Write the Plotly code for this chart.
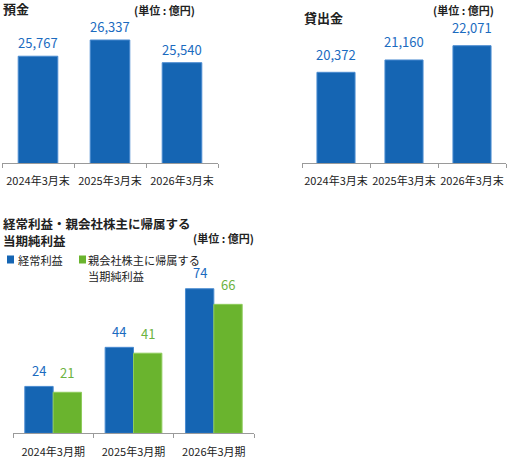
import plotly.graph_objects as go

# ---- data ----
periods_end = ["2024年3月末", "2025年3月末", "2026年3月末"]
periods_fy = ["2024年3月期", "2025年3月期", "2026年3月期"]
deposits = [25767, 26337, 25540]
loans = [20372, 21160, 22071]
ordinary_profit = [24, 44, 74]
net_profit = [21, 41, 66]

W, H = 512, 458
BLUE = "#1565b3"
BLUE_EDGE = "#4a8bd0"
BLUE_TXT = "#1b6bbf"
GREEN = "#6ab42e"
GREEN_EDGE = "#8ecb5c"
GREEN_TXT = "#6cb33f"
FONT = "Noto Sans CJK JP, Noto Sans, sans-serif"


def px(x):
    return x / W


def py(y):
    return 1 - y / H


def fmt(v):
    return f"{v:,}"


fig = go.Figure()
annotations = []
shapes = []

idx = [i + 0.5 for i in range(3)]

# ---- 預金 ----
fig.add_trace(go.Bar(x=idx, y=deposits, width=0.55, xaxis="x", yaxis="y",
                     marker=dict(color=BLUE, line=dict(color=BLUE_EDGE, width=1)),
                     showlegend=False, hoverinfo="skip"))
for xv, v in zip(idx, deposits):
    annotations.append(dict(x=xv, y=v, xref="x", yref="y", text=fmt(v), showarrow=False,
                            yshift=13.5, font=dict(size=13, color=BLUE_TXT, family=FONT)))

# ---- 貸出金 ----
fig.add_trace(go.Bar(x=idx, y=loans, width=0.56, xaxis="x2", yaxis="y2",
                     marker=dict(color=BLUE, line=dict(color=BLUE_EDGE, width=1)),
                     showlegend=False, hoverinfo="skip"))
for xv, v in zip(idx, loans):
    annotations.append(dict(x=xv, y=v, xref="x2", yref="y2", text=fmt(v), showarrow=False,
                            yshift=18, font=dict(size=13, color=BLUE_TXT, family=FONT)))

# ---- 利益 ----
bw = 0.353
fig.add_trace(go.Bar(x=idx, y=ordinary_profit, width=bw, offset=-bw, xaxis="x3", yaxis="y3",
                     marker=dict(color=BLUE, line=dict(color=BLUE_EDGE, width=1)),
                     showlegend=False, hoverinfo="skip"))
fig.add_trace(go.Bar(x=idx, y=net_profit, width=bw, offset=0, xaxis="x3", yaxis="y3",
                     marker=dict(color=GREEN, line=dict(color=GREEN_EDGE, width=1)),
                     showlegend=False, hoverinfo="skip"))
for xv, v in zip(idx, ordinary_profit):
    annotations.append(dict(x=xv - bw / 2, y=v, xref="x3", yref="y3", text=str(v), showarrow=False,
                            yshift=16, font=dict(size=13, color=BLUE_TXT, family=FONT)))
for xv, v in zip(idx, net_profit):
    annotations.append(dict(x=xv + bw / 2, y=v, xref="x3", yref="y3", text=str(v), showarrow=False,
                            yshift=20, font=dict(size=13, color=GREEN_TXT, family=FONT)))

# ---- titles / units / legend ----
def label(x, y, text, size=12, bold=False, color="#222", anchor="left"):
    t = f"<b>{text}</b>" if bold else text
    annotations.append(dict(x=px(x), y=py(y), xref="paper", yref="paper", text=t,
                            showarrow=False, xanchor=anchor, yanchor="middle", align="left",
                            borderpad=0, font=dict(size=size, color=color, family=FONT)))


UNIT = "(単位 : 億円)"
label(2, 8.5, "預金", 13, True)
label(133, 10, UNIT, 11, True)
label(303, 17.5, "貸出金", 13, True)
label(432, 10, UNIT, 11, True)
label(2, 223.5, "経常利益・親会社株主に帰属する", 12.5, True)
label(2, 240, "当期純利益", 12.5, True)
label(192, 238, UNIT, 11, True)
label(17, 259.5, "経常利益", 11.2)
label(87, 259.5, "親会社株主に帰属する", 11.2)
label(87, 276, "当期純利益", 11.2)

for x0, c in [(7, BLUE), (79, GREEN)]:
    shapes.append(dict(type="rect", xref="paper", yref="paper",
                       x0=px(x0), x1=px(x0 + 7), y0=py(263.5), y1=py(255.5),
                       fillcolor=c, line=dict(width=0)))


def xax(domain, labels):
    return dict(domain=domain, range=[0, 3], tickvals=idx, ticktext=labels,
                ticks="outside", ticklen=8, tickcolor="rgba(0,0,0,0)",
                showline=True, linecolor="#9a9a9a", linewidth=1,
                showgrid=False, zeroline=False, fixedrange=True,
                tickfont=dict(size=11, color="#222", family=FONT),
                minor=dict(tickvals=[0, 1, 2, 3], ticks="outside", ticklen=4,
                           tickcolor="#9a9a9a", tickwidth=1, showgrid=False))


def yax(domain, rng, anchor):
    return dict(domain=domain, range=rng, visible=False, fixedrange=True, anchor=anchor)


fig.update_layout(
    width=W, height=H,
    margin=dict(l=0, r=0, t=0, b=0),
    paper_bgcolor="white", plot_bgcolor="white",
    barmode="overlay",
    font=dict(family=FONT),
    xaxis=dict(xax([px(2), px(218)], periods_end), anchor="y"),
    yaxis=yax([py(163), py(20)], [22018, 27039], "x"),
    xaxis2=dict(xax([px(302), px(506)], periods_end), anchor="y2"),
    yaxis2=yax([py(163), py(20)], [14579, 23713], "x2"),
    xaxis3=dict(xax([px(13), px(254)], periods_fy), anchor="y3"),
    yaxis3=yax([py(433.3), py(260)], [0, 88.7], "x3"),
    annotations=annotations,
    shapes=shapes,
)

# page body has a default 8px margin; drop it so the figure fills the window
fig.write_html("out.html", config={"displayModeBar": False},
               post_script="document.body.style.margin='0px';")
